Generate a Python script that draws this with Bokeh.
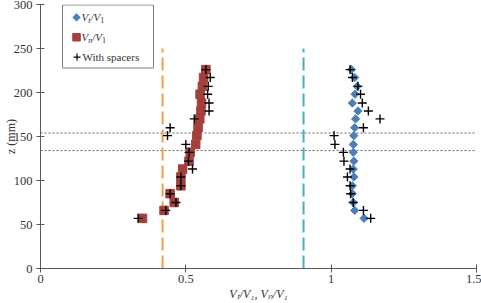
import math
from bokeh.plotting import figure
from bokeh.models import Range1d, FixedTicker, Label, ColumnDataSource
from bokeh.embed import file_html
from bokeh.resources import INLINE

# ---- data ----
z_mm = [57, 66, 75, 85, 94, 104, 113, 122, 132, 141, 151, 160, 170, 179, 188, 198, 207, 217, 226]
vt_ratio = [1.113, 1.081, 1.076, 1.073, 1.073, 1.078, 1.076, 1.078, 1.076, 1.076,
            1.078, 1.081, 1.084, 1.092, 1.073, 1.082, 1.090, 1.081, 1.070]
vn_ratio = [0.351, 0.425, 0.460, 0.446, 0.483, 0.483, 0.489, 0.511, 0.515, 0.534,
            0.538, 0.542, 0.548, 0.552, 0.554, 0.549, 0.557, 0.561, 0.569]
vt_spacers = [1.136, 1.111, 1.076, 1.067, 1.065, 1.056, 1.065, 1.044, 1.042, 1.013,
              1.010, 1.111, 1.168, 1.128, 1.107, 1.101, 1.092, 1.073, 1.065]
vn_spacers = [0.336, 0.431, 0.466, 0.446, 0.483, 0.483, 0.523, 0.509, 0.511, 0.500,
              0.437, 0.446, 0.529, 0.580, 0.580, 0.575, 0.577, 0.584, 0.569]
spacer_z = [134, 154]           # dotted horizontal lines
ref_x = [0.42, 0.905]           # dashed vertical reference lines
ref_top = 250
x_ticks = [0, 0.5, 1, 1.5]
x_tick_labels = ["0", "0.5", "1", "1.5"]
y_ticks = [0, 50, 100, 150, 200, 250, 300]
x_title = "V\u209c/V\u2081, V\u2099/V\u2081"
y_title = "z (mm)"

BLUE = "#4A7EBB"
RED = "#A33F3C"
ORANGE = "#F59D4A"
CYAN = "#4BACC6"
AXIS = "#595959"
TXT = "#333333"
FONT = "Liberation Serif"

W, H = 481, 303
L, R, T, B = 40, 5, 4, 33
p = figure(width=W, height=H, output_backend="svg", toolbar_location=None,
           x_range=Range1d(0, 1.5), y_range=Range1d(0, 300),
           min_border_left=L, min_border_right=R, min_border_top=T, min_border_bottom=B)
p.outline_line_color = None
p.xgrid.grid_line_color = None
p.ygrid.grid_line_color = None
p.background_fill_color = "white"
p.border_fill_color = "white"

for ax in (p.xaxis[0], p.yaxis[0]):
    ax.axis_line_color = AXIS
    ax.major_tick_line_color = AXIS
    ax.major_tick_in = 4
    ax.major_tick_out = 4
    ax.minor_tick_line_color = None
    ax.major_label_text_font = FONT
    ax.major_label_text_font_size = "12.5px"
    ax.major_label_text_color = TXT
    ax.axis_label_text_font = FONT
    ax.axis_label_text_color = TXT
p.xaxis[0].major_label_standoff = 2
p.xaxis[0].axis_label_standoff = 1
p.yaxis[0].major_label_standoff = 4
p.yaxis[0].axis_label_standoff = -7
p.xaxis[0].ticker = FixedTicker(ticks=x_ticks)
p.xaxis[0].major_label_overrides = {t: s for t, s in zip(x_ticks, x_tick_labels)}
p.yaxis[0].ticker = FixedTicker(ticks=y_ticks)
p.xaxis[0].axis_label = x_title
p.xaxis[0].axis_label_text_font_style = "italic"
p.xaxis[0].axis_label_text_font_size = "12px"
p.yaxis[0].axis_label = y_title
p.yaxis[0].axis_label_text_font_style = "normal"
p.yaxis[0].axis_label_text_font_size = "12px"

# reference lines
for zz in spacer_z:
    p.line([0, 1.5], [zz, zz], line_color="#666666", line_width=1, line_dash="2 2")
p.line([ref_x[0], ref_x[0]], [0, ref_top], line_color=ORANGE, line_width=2, line_dash="13 5")
p.line([ref_x[1], ref_x[1]], [0, ref_top], line_color=CYAN, line_width=2, line_dash="13 5")

src = ColumnDataSource(dict(z=z_mm, vt=vt_ratio, vn=vn_ratio, vts=vt_spacers, vns=vn_spacers))
p.scatter("vn", "z", source=src, marker="square", size=8.5, fill_color=RED, line_color=RED)
p.scatter("vt", "z", source=src, marker="square", angle=math.pi / 4, size=5.8,
          fill_color=BLUE, line_color=BLUE)
p.scatter("vns", "z", source=src, marker="cross", size=9, line_color="black", line_width=1.4)
p.scatter("vts", "z", source=src, marker="cross", size=9, line_color="black", line_width=1.4)

# ---- pixel helpers for legend layout ----
FW, FH = W - L - R, H - T - B
def dx(px):
    return (px - L) / FW * 1.5
def dy(py):
    return (H - B - py) / FH * 300

REG = {'0': .5, '1': .5, ',': .25, ' ': .25, '/': .278, 'W': .944, 'i': .278, 't': .278,
       'h': .5, 's': .389, 'p': .5, 'a': .444, 'c': .444, 'e': .444, 'r': .333}
ITA = {'V': .611, 't': .278, 'n': .5, '/': .278}

def width(txt, size, italic):
    tab = ITA if italic else REG
    return sum(tab.get(c, .5) for c in txt) * size

def runs(px, py, parts):
    for txt, size, italic, shift in parts:
        p.add_layout(Label(x=dx(px), y=dy(py + shift), text=txt, text_font=FONT,
                           text_font_size=f"{size}px",
                           text_font_style="italic" if italic else "normal",
                           text_color=TXT, text_align="left", text_baseline="middle"))
        px += width(txt, size, italic)

# legend box (drawn before its swatches)
p.quad(left=[dx(62)], right=[dx(153)], top=[dy(4.5)], bottom=[dy(68)],
       fill_color="white", line_color="#7f7f7f", line_width=1)
p.scatter([dx(76)], [dy(17)], marker="square", angle=math.pi / 4, size=5.2,
          fill_color=BLUE, line_color=BLUE)
p.scatter([dx(76)], [dy(37)], marker="square", size=7.5, fill_color=RED, line_color=RED)
p.scatter([dx(76.5)], [dy(57)], marker="cross", size=7, line_color="black", line_width=1.2)
S, s = 11, 8
runs(81, 17, [("V", S, True, 0), ("t", s, True, 3), ("/V", S, True, 0), ("1", s, False, 3)])
runs(81, 37, [("V", S, True, 0), ("n", s, True, 3), ("/V", S, True, 0), ("1", s, False, 3)])
runs(82, 57, [("With spacers", S, False, 0)])

open("out.html", "w").write(file_html(p, INLINE))
